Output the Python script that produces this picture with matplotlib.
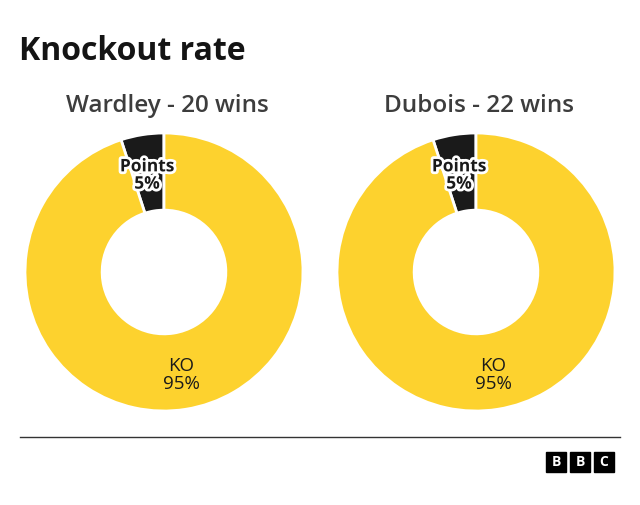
import matplotlib
matplotlib.use('Agg')
import matplotlib.pyplot as plt
import matplotlib.patheffects as pe
from matplotlib.patches import Rectangle

plt.rcParams['font.family'] = ['Open Sans', 'DejaVu Sans']

# Datos
players = ['Wardley - 20 wins', 'Dubois - 22 wins']
categories = ['Points', 'KO']
points_pct = [5, 5]
ko_pct = [95, 95]

YELLOW = '#fdd22e'
BLACK = '#1a1a1a'

W, H = 640, 505
fig = plt.figure(figsize=(6.4, 5.05), dpi=100)
ax = fig.add_axes([0, 0, 1, 1])

# Titulo
ax.text(19, H - 52, 'Knockout rate', fontsize=23, fontweight='bold',
        color='#141414', va='center', ha='left')

centers = [(164, H - 272), (476, H - 272)]
R = 139

for i, name in enumerate(players):
    cx, cy = centers[i]
    vals = [points_pct[i], ko_pct[i]]
    ax.pie(vals, colors=[BLACK, YELLOW], startangle=90, counterclock=True,
           center=(cx, cy), radius=R,
           wedgeprops=dict(width=R * 0.555, edgecolor='white', linewidth=2),
           frame=True)
    ax.text(cx + 3, H - 106, name, fontsize=17.5, fontweight='semibold',
            color='#3d3d3d', ha='center', va='center')

    # Etiquetas
    ax.text(cx - 17, cy + 97, f'{categories[0]}\n{points_pct[i]}%', fontsize=12.5,
            fontweight='bold', color=BLACK, ha='center', va='center',
            linespacing=0.95,
            path_effects=[pe.withStroke(linewidth=4, foreground='white')])
    ax.text(cx + 17, cy - 103, f'{categories[1]}\n{ko_pct[i]}%', fontsize=13.5,
            color=BLACK, ha='center', va='center', linespacing=0.98)

ax.set_xlim(0, W)
ax.set_ylim(0, H)
ax.set_aspect('auto')
ax.axis('off')

# Linea inferior
ax.plot([20, 620], [H - 437, H - 437], color='#333333', lw=1)

# Logo BBC
for j, letter in enumerate('BBC'):
    x0 = 546 + j * 24
    ax.add_patch(Rectangle((x0, H - 472), 20, 20, color='black'))
    ax.text(x0 + 10, H - 462, letter, color='white', fontsize=10,
            fontweight='bold', ha='center', va='center')

fig.savefig('out.png', dpi=100, facecolor='white')
